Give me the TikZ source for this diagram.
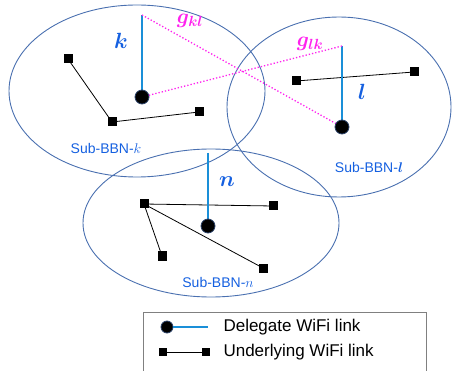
\RequirePackage{fix-cm}
\documentclass[tikz,border=0pt]{standalone}
\usepackage{fontspec}
\usepackage{amsmath,bm}
\setmainfont{Liberation Sans}
\definecolor{ellc}{HTML}{4A70B0}
\definecolor{delc}{HTML}{1A8FD8}
\definecolor{labc}{HTML}{1560E0}
\definecolor{mag}{HTML}{FF22EE}
\tikzset{
  ell/.style={draw=ellc, line width=0.9pt},
  sq/.style={rectangle, fill=black, minimum size=9pt, inner sep=0pt},
  dot/.style={circle, fill=black, draw=ellc!60!black, line width=0.8pt, minimum size=14pt, inner sep=0pt},
  deleg/.style={draw=delc, line width=2.6pt},
  under/.style={draw=black, line width=0.8pt},
  gline/.style={draw=mag, dotted, line width=1.3pt},
  biglab/.style={text=labc, font=\fontsize{22}{24}\selectfont},
  sublab/.style={text=labc, font=\fontsize{14}{16}\selectfont},
  glab/.style={text=mag, font=\fontsize{21}{23}\selectfont},
  leglab/.style={anchor=west, font=\fontsize{17}{19}\selectfont}
}
\begin{document}
\begin{tikzpicture}[x=1pt,y=-1pt]
\useasboundingbox (0,0) rectangle (452,371);
% ellipses
\draw[ell] (137,91) ellipse [x radius=128, y radius=86];
\draw[ell] (339,107) ellipse [x radius=112, y radius=90];
\draw[ell] (211,223) ellipse [x radius=128, y radius=74];
% underlying links k
\node[sq] (k1) at (68,59) {};
\node[sq] (k2) at (112,122) {};
\node[sq] (k3) at (199,112) {};
\draw[under] (k1.center) -- (k2.center) -- (k3.center);
% underlying links l
\node[sq] (l1) at (296,81) {};
\node[sq] (l2) at (414,72) {};
\draw[under] (l1.center) -- (l2.center);
% underlying links n
\node[sq] (n1) at (144,204) {};
\node[sq] (n2) at (273,206) {};
\node[sq] (n3) at (162,256) {};
\node[sq] (n4) at (263,268) {};
\draw[under] (n1.center) -- (n2.center);
\draw[under] (n1.center) -- (n3.center);
\draw[under] (n1.center) -- (n4.center);
% delegates
\coordinate (tk) at (142,15);
\coordinate (tl) at (342,46);
\coordinate (tn) at (208,153);
\draw[deleg] (tk) -- (142,97);
\draw[deleg] (tl) -- (342,127);
\draw[deleg] (tn) -- (208,226);
% interference lines
\draw[gline] (tk) -- (342,127);
\draw[gline] (tl) -- (142,97);
\node[dot] (ck) at (142,97) {};
\node[dot] (cl) at (342,127) {};
\node[dot] (cn) at (208,226) {};
% labels
\node[biglab] (lk) at (121,41) {$\bm{k}$};
\node[biglab] (ll) at (362,92) {$\bm{l}$};
\node[biglab] (ln) at (227,182) {$\bm{n}$};
\node[glab] (gkl) at (190,21) {$\bm{g_{kl}}$};
\node[glab] (glk) at (310,44) {$\bm{g_{lk}}$};
\node[sublab] (sk) at (106,148) {Sub-BBN-$k$};
\node[sublab] (sl) at (369,167) {Sub-BBN-$\bm{l}$};
\node[sublab] (sn) at (218,282) {Sub-BBN-$n$};
% legend
\draw[gray, line width=0.8pt] (143,372) -- (143,312) -- (426,312) -- (426,372);
\node[dot, minimum size=12pt] (lgc) at (167,327) {};
\coordinate (lge) at (208,327);
\draw[deleg, line width=2pt] (lgc.east) -- (lge);
\node[sq, minimum size=8pt] (lgs1) at (163,352) {};
\node[sq, minimum size=8pt] (lgs2) at (206,352) {};
\draw[under] (lgs1.center) -- (lgs2.center);
\node[leglab] (lt1) at (220,327) {Delegate WiFi link};
\node[leglab] (lt2) at (220,352) {Underlying WiFi link};
\end{tikzpicture}
\end{document}
